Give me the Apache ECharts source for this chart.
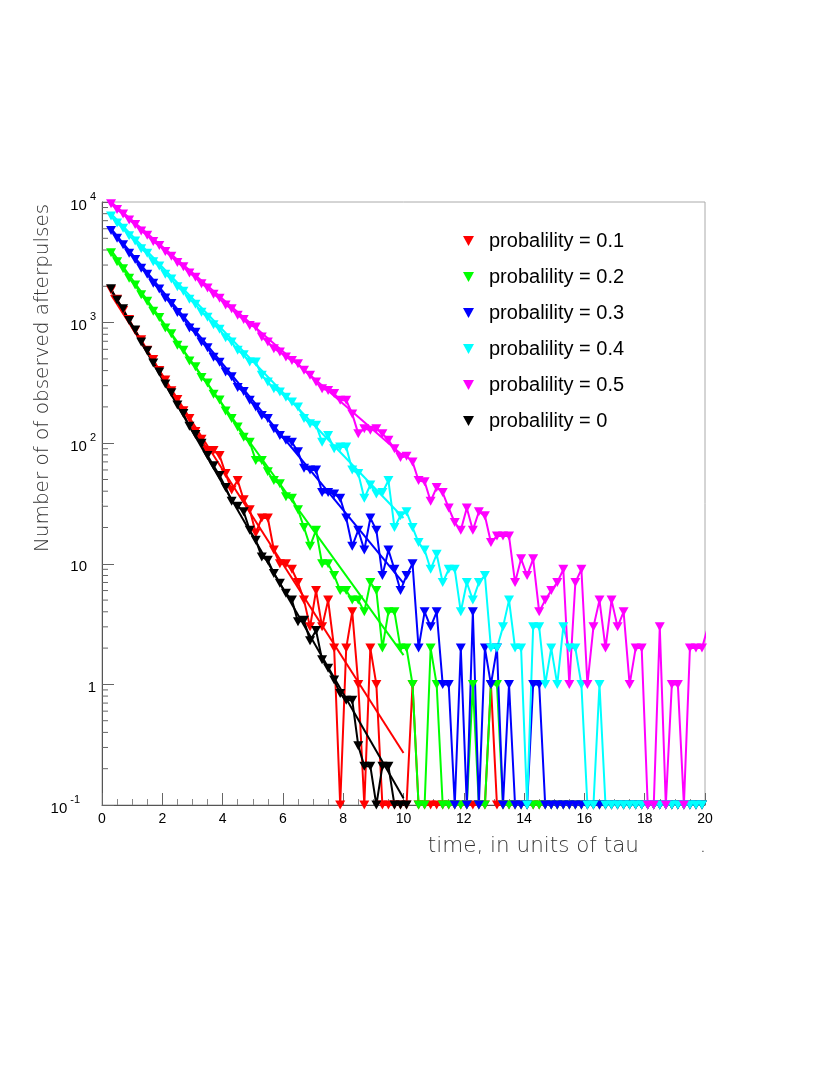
<!DOCTYPE html>
<html>
<head>
<meta charset="utf-8">
<script src="https://cdn.jsdelivr.net/npm/echarts@6.0.0/dist/echarts.min.js"></script>
<style>
  html, body { margin: 0; padding: 0; background: #fff; }
  #chart { width: 830px; height: 1075px; }
</style>
</head>
<body>
<div id="chart"></div>
<script>
// bin centres in units of tau: first drawn bin 0.3, width 0.2
var firstBin = 0.3, binWidth = 0.2, nBins = 100;

// counts per bin (0 = empty bin, drawn on the floor)
var p01 = [1860, 1560, 1260, 1060, 860, 720, 590, 495, 400, 335,
  272, 230, 186, 160, 125, 108, 87, 87, 79, 56,
  41, 49, 34, 28, 18, 24, 24, 13, 10, 10,
  9, 7, 5, 3, 6, 3, 5, 2, 0, 2,
  4, 1, 0, 2, 1, 0, 0, 0, 0, 0,
  1, 0, 0, 0, 0, 0, 0, 0, 0, 0,
  0, 0, 0, 1, 0, 0, 0, 0, 0, 0,
  0, 0, 0, 0, 0, 0, 0, 0, 0, 0,
  0, 0, 0, 0, 0, 0, 0, 0, 0, 0,
  0, 0, 0, 0, 0, 0, 0, 0, 0];
var p02 = [3790, 3200, 2800, 2330, 2050, 1700, 1500, 1240, 1100, 900,
  810, 650, 590, 480, 430, 350, 315, 255, 228, 185,
  160, 136, 112, 102, 72, 72, 58, 49, 46, 36,
  35, 28, 20, 14, 19, 10, 10, 8, 6, 6,
  5, 5, 4, 7, 6, 2, 4, 4, 2, 2,
  1, 0, 0, 2, 1, 0, 0, 0, 0, 0,
  1, 0, 0, 1, 1, 0, 0, 0, 0, 0,
  0, 0, 0, 0, 0, 0, 0, 0, 0, 0,
  0, 0, 0, 0, 0, 0, 0, 0, 0, 0,
  0, 0, 0, 0, 0, 0, 0, 0, 0];
var p03 = [5810, 5000, 4420, 3750, 3330, 2820, 2520, 2120, 1900, 1600,
  1440, 1210, 1090, 900, 830, 690, 620, 515, 470, 390,
  355, 290, 268, 227, 200, 170, 160, 132, 116, 106,
  102, 85, 62, 60, 60, 39, 39, 38, 35, 24,
  14, 19, 13, 24, 19, 8, 13, 9, 6, 8,
  10, 2, 4, 3, 4, 1, 1, 0, 2, 0,
  4, 0, 2, 1, 2, 0, 1, 0, 0, 0,
  1, 1, 0, 0, 0, 0, 0, 0, 0, 0,
  0, 0, 0, 0, 0, 0, 0, 0, 0, 0,
  0, 0, 0, 0, 0, 0, 0, 0, 0];
var p04 = [7640, 6700, 6050, 5250, 4750, 4100, 3750, 3200, 2950, 2520,
  2300, 1980, 1820, 1560, 1420, 1220, 1110, 960, 880, 750,
  690, 590, 540, 471, 471, 366, 322, 283, 266, 241,
  220, 200, 160, 145, 141, 102, 116, 90, 93, 93,
  60, 56, 35, 45, 38, 39, 49, 20, 25, 27,
  20, 15, 13, 9, 12, 7, 9, 9, 4, 7,
  5, 7, 8, 2, 2, 3, 5, 2, 2, 0,
  3, 3, 1, 2, 1, 3, 2, 2, 1, 0,
  0, 1, 0, 0, 0, 0, 0, 0, 0, 0,
  0, 0, 0, 0, 0, 0, 0, 0, 0];
var p05 = [9660, 8650, 7950, 7100, 6500, 5750, 5300, 4700, 4350, 3880,
  3550, 3150, 2900, 2580, 2380, 2100, 1940, 1720, 1590, 1400,
  1300, 1150, 1060, 948, 918, 759, 690, 608, 570, 518,
  486, 456, 402, 366, 322, 283, 274, 258, 227, 227,
  175, 120, 132, 128, 132, 120, 106, 90, 76, 78,
  70, 49, 48, 33, 43, 39, 29, 22, 19, 29,
  19, 27, 25, 15, 17, 17, 17, 7, 11, 8,
  11, 4, 5, 6, 7, 9, 1, 7, 9, 1,
  3, 5, 2, 5, 3, 4, 1, 2, 2, 0,
  0, 3, 0, 1, 1, 0, 2, 2, 2, 3];
var p00 = [1910, 1540, 1300, 1040, 870, 690, 585, 462, 390, 310,
  262, 207, 176, 138, 118, 100, 79, 65, 54, 43,
  33, 30, 27, 19, 15.7, 11.4, 10.7, 8.3, 6.9, 5.7,
  5, 3.3, 3.4, 2.3, 2.8, 1.6, 1.36, 1.09, 0.84, 0.74,
  0.74, 0.31, 0.21, 0.21, 0, 0.21, 0.21, 0, 0, 0];

// exponential fits: value at fitRange[0] and at fitRange[1]
var fitRange = [0.3, 10];
var fit01 = [1700, 0.27];
var fit02 = [4000, 1.75];
var fit03 = [6000, 6.9];
var fit04 = [8000, 24];
var fit05 = [10000, 78];
var fit00 = [1860, 0.114];

var names = ['probalility = 0.1', 'probalility = 0.2', 'probalility = 0.3',
  'probalility = 0.4', 'probalility = 0.5', 'probalility = 0'];
var colors = ['#ff0000', '#00ff00', '#0000ff', '#00ffff', '#ff00ff', '#000000'];
var counts = [p01, p02, p03, p04, p05, p00];
var fits = [fit01, fit02, fit03, fit04, fit05, fit00];

var yMin = 0.1, yMax = 10000;
var tri = 'path://M0,0L10,0L5,9Z';
var thinFont = '"DejaVu Sans", "Open Sans", sans-serif';
var labelFont = '"Liberation Sans", Arial, sans-serif';

var times = [];
for (var i = 0; i < nBins; i++) times.push(+(firstBin + i * binWidth).toFixed(1));

var minorY = [];
for (var d = -1; d <= 3; d++) {
  for (var m = 2; m <= 9; m++) minorY.push([0, +(m * Math.pow(10, d)).toPrecision(3)]);
}

var series = [];
counts.forEach(function (vals, k) {
  series.push({
    name: names[k],
    type: 'line',
    data: vals.map(function (v, j) { return [times[j], v > 0 ? v : yMin]; }),
    symbol: tri,
    symbolSize: [10, 9],
    showAllSymbol: true,
    clip: true,
    lineStyle: { width: 2, color: colors[k] },
    itemStyle: { color: colors[k] },
    silent: true
  });
  series.push({
    type: 'line',
    data: [[fitRange[0], fits[k][0]], [fitRange[1], fits[k][1]]],
    symbol: 'none',
    clip: true,
    lineStyle: { width: 2, color: colors[k] },
    itemStyle: { color: colors[k] },
    silent: true
  });
});

// log minor ticks 2..9 per decade on the left axis
series.push({
  type: 'custom',
  data: minorY,
  silent: true,
  z: 1,
  renderItem: function (params, api) {
    var p = api.coord([0, api.value(1)]);
    return {
      type: 'line',
      shape: { x1: p[0], y1: p[1], x2: p[0] + 6, y2: p[1] },
      style: { stroke: '#666', lineWidth: 1 }
    };
  }
});

var chart = echarts.init(document.getElementById('chart'), null, { renderer: 'canvas' });
chart.setOption({
  animation: false,
  backgroundColor: '#fff',
  grid: { left: 102, top: 202, width: 603, height: 603, show: true, borderColor: '#aaa', borderWidth: 1 },
  legend: {
    data: names,
    orient: 'vertical',
    left: 458,
    top: 226,
    itemWidth: 11,
    itemHeight: 10,
    itemGap: 16,
    icon: tri,
    selectedMode: false,
    textStyle: { fontSize: 20, fontFamily: labelFont, color: '#000', padding: [0, 0, 0, 10] }
  },
  xAxis: {
    type: 'value',
    min: 0,
    max: 20,
    interval: 2,
    axisLine: { lineStyle: { color: '#555', width: 1 } },
    axisTick: { inside: true, length: 12, lineStyle: { color: '#666' } },
    minorTick: { show: true, splitNumber: 4, length: 6, lineStyle: { color: '#888' } },
    splitLine: { show: false },
    axisLabel: { fontSize: 14, fontFamily: labelFont, color: '#000', margin: 7 }
  },
  yAxis: {
    type: 'log',
    logBase: 10,
    min: yMin,
    max: yMax,
    splitNumber: 5,
    axisLine: { show: true, lineStyle: { color: '#555', width: 1 } },
    axisTick: { show: true, inside: true, length: 12, lineStyle: { color: '#666' } },
    splitLine: { show: false },
    axisLabel: {
      margin: 6,
      formatter: function (v) {
        var e = Math.round(Math.log(v) / Math.LN10);
        if (e === 0) return '{b|1}';
        if (e === 1) return '{b|10}{pad|}';
        if (e < 0) return '{b|10}{s|' + e + '}{padm|}';
        return '{b|10}{s|' + e + '}';
      },
      rich: {
        b: { fontSize: 15, fontFamily: labelFont, color: '#000', lineHeight: 22, verticalAlign: 'bottom' },
        s: { fontSize: 11, fontFamily: labelFont, color: '#000', lineHeight: 22, verticalAlign: 'top', padding: [0, 0, 0, 3] },
        pad: { width: 9 },
        padm: { width: 16 }
      }
    }
  },
  graphic: [
    {
      type: 'text',
      x: 43,
      y: 378,
      rotation: Math.PI / 2,
      style: {
        text: 'Number of of observed afterpulses',
        fontSize: 20,
        fontFamily: thinFont,
        fontWeight: 200,
        fill: '#333',
        align: 'center',
        verticalAlign: 'middle'
      }
    },
    {
      type: 'text',
      x: 639,
      y: 846,
      style: {
        text: 'time, in units of tau',
        fontSize: 21.5,
        fontFamily: thinFont,
        fontWeight: 200,
        fill: '#333',
        align: 'right',
        verticalAlign: 'middle'
      }
    },
    {
      type: 'text',
      x: 703,
      y: 846,
      style: {
        text: '.',
        fontSize: 21.5,
        fontFamily: thinFont,
        fontWeight: 200,
        fill: '#333',
        align: 'center',
        verticalAlign: 'middle'
      }
    }
  ],
  series: series
});
</script>
</body>
</html>
